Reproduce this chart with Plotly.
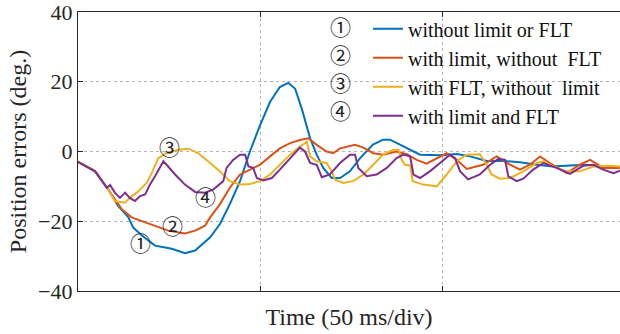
import plotly.graph_objects as go

# time in ms (50 ms/div), position error in degrees
t1 = [0, 4.7, 8.3, 11.0, 13.8, 15.1, 17.5, 21.1, 25.7, 29.3, 32.1, 34.3, 36.2, 38.9, 41.6, 44.4,
      47.1, 49.9, 52.6, 55.3, 57.6, 59.5, 61.3, 63.6, 65.4, 67.2, 69.5, 71.8, 74.5, 77.3, 80.8,
      83.6, 85.5, 88.2, 91.0, 93.7, 99.2, 103.8, 107.4, 112.0, 116.5, 121.1, 125.7, 130.1, 134.8,
      139.4, 143.8, 148.5]
y1 = [-3, -5.7, -10.9, -15.6, -18.9, -21.8, -24.1, -27, -27.9, -29.2, -28.4, -26.5, -24.6, -20.8,
      -15.1, -8.5, 0, 7.6, 14.2, 18.5, 19.7, 18, 12.3, 3.8, -0.9, -4.7, -7.6, -7.6, -5.7, -1.9, 2,
      3.4, 3.4, 2, 0.6, -0.9, -1.1, -0.7, -1.4, -2.7, -2.7, -3.1, -3.8, -4.3, -4, -3.8, -4.3, -4.7]

t2 = [0, 4.7, 8.3, 10.1, 12.0, 14.7, 17.5, 21.1, 24.7, 29.3, 32.1, 34.8, 36.2, 38.9, 41.6, 44.4,
      47.1, 49.9, 52.6, 55.3, 58.1, 60.8, 63.1, 65.4, 68.1, 69.9, 71.8, 75.9, 78.2, 80.9, 83.6,
      87.3, 90.1, 92.8, 95.5, 98.3, 101.0, 103.8, 106.5, 111.0, 114.7, 117.5, 121.1, 123.8, 126.6,
      129.3, 133.9, 137.5, 140.3, 143.9, 148.5]
y2 = [-3, -5.7, -10.9, -13.6, -16.6, -18.9, -19.9, -21.3, -22.7, -23.5, -22.7, -21.3, -18.9, -15.1,
      -10.4, -6.6, -5.2, -3.8, -1.4, 0.9, 2.4, 3.3, 3.8, 1.9, 0, -0.5, 0.9, 1.9, 1.1, -0.5, -0.9,
      0, -0.8, -2.4, -3.5, -1.9, -0.5, -2.4, -5.0, -3.8, -1.4, -3.3, -5.2, -3.8, -1.4, -3.3, -6.2,
      -3.8, -2.4, -4.7, -4.7]

t3 = [0, 4.7, 8.3, 10.1, 12.9, 14.2, 16.1, 17.5, 18.8, 20.2, 22.0, 24.3, 27.5, 30.2, 33.0, 36.2,
      38.9, 41.6, 44.4, 47.1, 49.9, 52.6, 55.3, 58.1, 60.8, 62.7, 63.6, 65.4, 68.1, 69.5, 70.4,
      72.7, 75.4, 78.2, 80.9, 83.6, 86.4, 87.8, 88.7, 89.6, 91.0, 91.7, 94.6, 98.3, 101.0, 103.8,
      106.5, 110.1, 112.0, 113.3, 115.6, 118.4, 122.0, 125.7, 127.5, 130.2, 133.9, 137.5, 141.2,
      145.8, 148.5]
y3 = [-3, -5.7, -10.9, -14.2, -14.7, -13.3, -11.8, -10.4, -9, -6.2, -1.9, -0.5, 0.5, 0.8, -0.5,
      -3.3, -5.7, -8.5, -9.5, -9.3, -8.5, -6.6, -3.8, -0.9, 1.4, 2.8, -1.4, -2.8, -3.3, -5.7, -8,
      -9, -8.5, -6.6, -3.8, -0.9, 0.5, 0.5, -2.4, -3.8, -4, -8.5, -9.5, -10, -6.6, -2.8, -0.9,
      -0.8, -3.8, -6.6, -7.8, -7.6, -5.7, -3.3, -2.8, -4.3, -5.7, -5.7, -4.3, -4.1, -4.3]

t4 = [0, 4.7, 7.9, 8.8, 10.1, 11.5, 12.9, 14.2, 15.6, 17.0, 18.4, 19.7, 21.1, 22.5, 23.4, 24.7,
      26.6, 29.3, 32.1, 34.8, 37.1, 39.8, 40.7, 42.5, 44.4, 45.8, 46.7, 48.0, 49.0, 50.8, 53.1,
      55.3, 58.1, 60.8, 62.2, 63.6, 65.4, 66.8, 69.0, 71.8, 74.5, 75.9, 76.8, 79.1, 81.8, 84.6,
      87.3, 89.1, 91.0, 91.9, 93.7, 96.4, 99.2, 101.9, 103.3, 104.7, 106.9, 110.1, 112.9, 115.2,
      117.0, 117.9, 120.2, 122.0, 124.7, 127.5, 131.1, 134.8, 138.4, 141.2, 143.9, 146.7, 148.5]
y4 = [-3, -5.7, -10.4, -9.6, -11.8, -13.3, -11.8, -13.3, -14.2, -12.8, -12.3, -9.5, -7.1, -4.7,
      -2.8, -4.3, -6.6, -9.5, -11.6, -11.8, -10.9, -8.5, -4.7, -2.4, -0.9, -0.9, -4.3, -4.7, -7.6,
      -8.3, -7.6, -5.2, -1.9, 1.1, 0, -3.3, -3.8, -7.4, -6.6, -3.3, -0.9, -0.9, -4.7, -7.1, -6.6,
      -4.7, -1.9, -0.9, -1.4, -6.6, -7.6, -5.7, -3.3, -0.9, -1.9, -5.7, -8, -6.6, -3.8, -2.1,
      -2.4, -7.1, -8.5, -7.8, -5.2, -3.3, -4.7, -6.4, -4.1, -3.8, -5.2, -6.2, -5.5]

names = ["without limit or FLT", "with limit, without  FLT",
         "with FLT, without  limit", "with limit and FLT"]
marks = ["①", "②", "③", "④"]
colors = ["#0072BD", "#D95319", "#EDB120", "#7E2F8E"]
series = [(t1, y1), (t2, y2), (t3, y3), (t4, y4)]

# circled labels on curves: (t, y)
label_pos = [(17.0, -26.4), (25.8, -21.6), (25.2, 1.1), (34.8, -13.4)]

serif = "Liberation Serif"
circ_font = "Liberation Serif, DejaVu Serif, Noto Sans CJK SC"

fig = go.Figure()
for (tx, yy), nm, c in zip(series, names, colors):
    fig.add_trace(go.Scatter(x=tx, y=yy, mode="lines", name=nm,
                             line=dict(color=c, width=2)))

for (lx, ly), m in zip(label_pos, marks):
    fig.add_annotation(x=lx, y=ly, text=m, showarrow=False,
                       xanchor="center", yanchor="middle",
                       font=dict(family=circ_font, size=21, color="#222"))

# circled numbers in front of legend entries
leg_rows = [0.942, 0.844, 0.742, 0.641]
for ry, m in zip(leg_rows, marks):
    fig.add_annotation(xref="paper", yref="paper", x=0.485, y=ry, text=m,
                       xanchor="center", yanchor="middle",
                       showarrow=False, font=dict(family=circ_font, size=21, color="#222"))

fig.update_layout(
    width=620, height=334,
    margin=dict(l=78, r=0, t=9, b=43),
    paper_bgcolor="white", plot_bgcolor="white",
    font=dict(family=serif, size=22, color="#262626"),
    showlegend=True,
    legend=dict(x=0.535, y=1.01, xanchor="left", yanchor="top",
                bgcolor="rgba(255,255,255,0)", borderwidth=0,
                font=dict(family=serif, size=20, color="#111")),
)
fig.update_xaxes(range=[0, 148.5], tickvals=[0, 50, 100, 150], showticklabels=False,
                 ticks="inside", ticklen=5, tickcolor="#262626",
                 showline=True, linecolor="#262626", linewidth=1.2, mirror="ticks",
                 showgrid=True, gridcolor="#b5b5b5", griddash="dot", gridwidth=1,
                 zeroline=False,
                 title=dict(text="Time (50 ms/div)", font=dict(size=24), standoff=17))
fig.update_yaxes(range=[-40.02, 40.02], tickvals=[-40, -20, 0, 20, 40],
                 ticks="inside", ticklen=5, tickcolor="#262626",
                 showline=True, linecolor="#262626", linewidth=1.2, mirror=False,
                 showgrid=True, gridcolor="#b5b5b5", griddash="dot", gridwidth=1,
                 zeroline=False, tickfont=dict(size=22), ticklabeloverflow="allow",
                 title=dict(text="Position errors (deg.)", font=dict(size=24), standoff=4))

fig.write_html("out.html")
